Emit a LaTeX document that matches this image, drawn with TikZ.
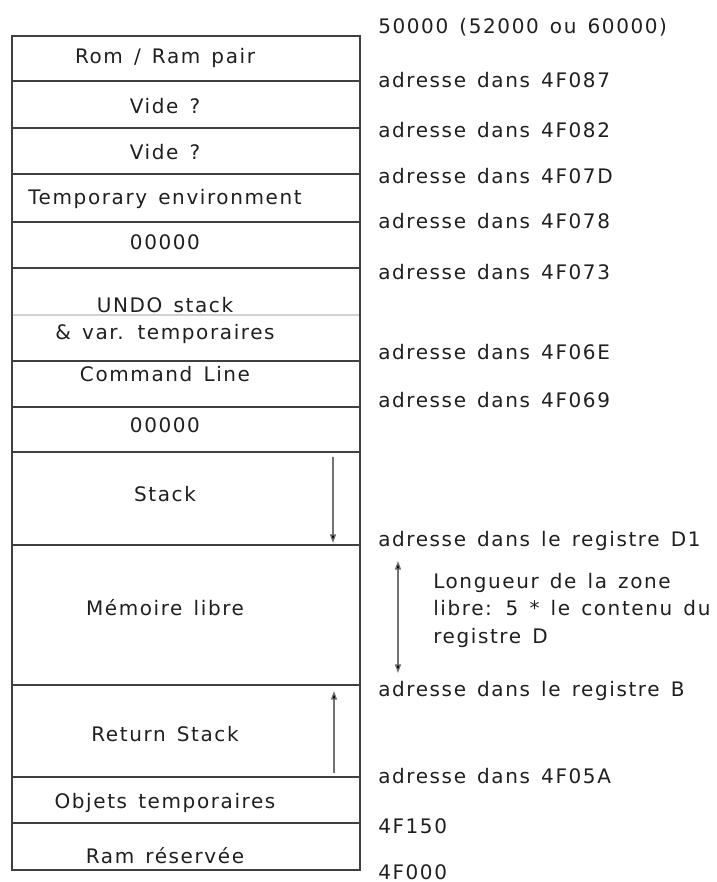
\documentclass[tikz,border=0pt]{standalone}
\usepackage{fontspec}
\setmainfont{DejaVu Sans}[LetterSpace=8, WordSpace=1.4]
\usetikzlibrary{arrows.meta}
\definecolor{linegray}{gray}{0.25}
\definecolor{sepgray}{gray}{0.82}
\definecolor{inkgray}{gray}{0.12}
\definecolor{shaftgray}{gray}{0.45}

\begin{document}
\begin{tikzpicture}[x=0.75pt, y=-0.75pt,
  cell/.style={draw=linegray, line width=1.1pt},
  celltext/.style={anchor=base, font=\fontsize{15}{20.2}\selectfont, text=inkgray, align=center, inner sep=0pt},
  addr/.style={anchor=base west, font=\fontsize{15}{20.6}\selectfont, text=inkgray, align=left, inner sep=0pt},
  tip/.style={Triangle[length=6.5pt, width=4.6pt, fill=black]},
  arrow/.style={-{Triangle[length=6.5pt, width=4.6pt, fill=black]}, line width=0.9pt, draw=shaftgray}
]
  \useasboundingbox (0,0) rectangle (717,882);

  % Memory map cells
  \foreach \ytop/\ybot/\yb/\txt/\name in {
      36/81/63/{Rom / Ram pair}/rompair,
      81/128/113/{Vide ?}/videa,
      128/174/159/{Vide ?}/videb,
      174/222/204/{Temporary environment}/tempenv,
      222/268/249/{00000}/zeroa,
      268/361/339/{UNDO stack\\\& var. temporaires}/undo,
      361/407/381/{Command Line}/cmdline,
      407/452/432/{00000}/zerob,
      452/545/501/{Stack}/stack,
      545/685/615/{Mémoire libre}/libre,
      685/777/741/{Return Stack}/rstack,
      777/823/808/{Objets temporaires}/objets,
      823/870/863/{Ram réservée}/ramres}
  {
    \draw[cell] (12,\ytop) rectangle (360,\ybot);
    \node[celltext] (\name) at (165,\yb) {\txt};
  }
  \draw[sepgray, line width=0.8pt] (12.6,315) -- (359.4,315);

  % Addresses
  \foreach \yb/\txt [count=\i] in {
      33/{50000 (52000 ou 60000)},
      87/{adresse dans 4F087},
      137/{adresse dans 4F082},
      183/{adresse dans 4F07D},
      228/{adresse dans 4F078},
      279/{adresse dans 4F073},
      359/{adresse dans 4F06E},
      407/{adresse dans 4F069},
      546/{adresse dans le registre D1},
      696/{adresse dans le registre B},
      783/{adresse dans 4F05A},
      833/{4F150},
      879/{4F000}}
  {
    \node[addr] (addr\i) at (378,\yb) {\txt};
  }
  \node[addr] (longueur) at (433,643) {Longueur de la zone\\libre: 5 * le contenu du\\registre D};

  % Growth arrows
  \coordinate (stacktop) at (333,457);
  \coordinate (stackend) at (333,543);
  \coordinate (rstackbot) at (334,773);
  \coordinate (rstackend) at (334,691);
  \coordinate (freetop) at (398,561);
  \coordinate (freebot) at (398,673);
  \draw[arrow] (stacktop) -- (stackend);
  \draw[arrow] (rstackbot) -- (rstackend);
  \draw[arrow, {Triangle[length=6.5pt, width=4.6pt, fill=black]}-{Triangle[length=6.5pt, width=4.6pt, fill=black]}] (freetop) -- (freebot);
\end{tikzpicture}
\end{document}
